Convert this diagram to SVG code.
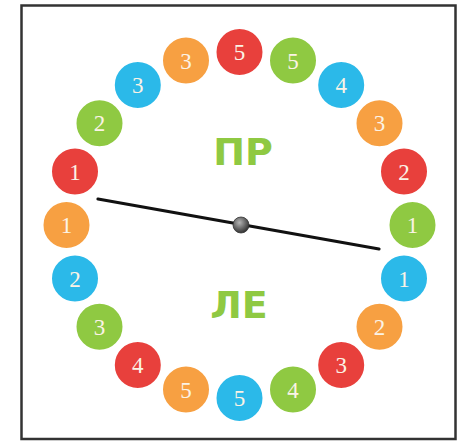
<svg xmlns="http://www.w3.org/2000/svg" width="458" height="441" viewBox="0 0 458 441">
<defs>
<radialGradient id="hub" cx="0.4" cy="0.35" r="0.7">
<stop offset="0" stop-color="#b5b5b5"/>
<stop offset="0.6" stop-color="#606060"/>
<stop offset="1" stop-color="#2a2a2a"/>
</radialGradient>
<style>
.c{stroke:#fff;stroke-width:2}
.r{fill:#e8403c}
.o{fill:#f7a042}
.g{fill:#8fc942}
.b{fill:#2bb9e9}
.n{font-family:"Liberation Serif",serif;font-size:23px;fill:#fbf3e6;text-anchor:middle}
.big{font-family:"DejaVu Sans",sans-serif;font-weight:bold;font-size:38px;fill:#8fc942;text-anchor:middle}
</style>
</defs>
<rect x="0" y="0" width="458" height="441" fill="#fff"/>
<rect x="21.5" y="5.5" width="434" height="433.5" fill="#fff" stroke="#333" stroke-width="2.5"/>
<g id="s0"><circle class="c r" cx="239.5" cy="52" r="24"/><text class="n" x="239.5" y="60">5</text></g>
<g id="s1"><circle class="c g" cx="293" cy="60.5" r="24"/><text class="n" x="293" y="68.5">5</text></g>
<g id="s2"><circle class="c b" cx="341.2" cy="85" r="24"/><text class="n" x="341.2" y="93">4</text></g>
<g id="s3"><circle class="c o" cx="379.5" cy="123.3" r="24"/><text class="n" x="379.5" y="131.3">3</text></g>
<g id="s4"><circle class="c r" cx="404" cy="171.5" r="24"/><text class="n" x="404" y="179.5">2</text></g>
<g id="s5"><circle class="c g" cx="412.5" cy="225" r="24"/><text class="n" x="412.5" y="233">1</text></g>
<g id="s6"><circle class="c b" cx="404" cy="278.5" r="24"/><text class="n" x="404" y="286.5">1</text></g>
<g id="s7"><circle class="c o" cx="379.5" cy="326.7" r="24"/><text class="n" x="379.5" y="334.7">2</text></g>
<g id="s8"><circle class="c r" cx="341.2" cy="365" r="24"/><text class="n" x="341.2" y="373">3</text></g>
<g id="s9"><circle class="c g" cx="293" cy="389.5" r="24"/><text class="n" x="293" y="397.5">4</text></g>
<g id="s10"><circle class="c b" cx="239.5" cy="398" r="24"/><text class="n" x="239.5" y="406">5</text></g>
<g id="s11"><circle class="c o" cx="186" cy="389.5" r="24"/><text class="n" x="186" y="397.5">5</text></g>
<g id="s12"><circle class="c r" cx="137.8" cy="365" r="24"/><text class="n" x="137.8" y="373">4</text></g>
<g id="s13"><circle class="c g" cx="99.5" cy="326.7" r="24"/><text class="n" x="99.5" y="334.7">3</text></g>
<g id="s14"><circle class="c b" cx="75" cy="278.5" r="24"/><text class="n" x="75" y="286.5">2</text></g>
<g id="s15"><circle class="c o" cx="66.5" cy="225" r="24"/><text class="n" x="66.5" y="233">1</text></g>
<g id="s16"><circle class="c r" cx="75" cy="171.5" r="24"/><text class="n" x="75" y="179.5">1</text></g>
<g id="s17"><circle class="c g" cx="99.5" cy="123.3" r="24"/><text class="n" x="99.5" y="131.3">2</text></g>
<g id="s18"><circle class="c b" cx="137.8" cy="85" r="24"/><text class="n" x="137.8" y="93">3</text></g>
<g id="s19"><circle class="c o" cx="186" cy="60.5" r="24"/><text class="n" x="186" y="68.5">3</text></g>
<g id="labels">
<text class="big" x="243" y="165">ПР</text>
<text class="big" x="239" y="318">ЛЕ</text>
</g>
<g id="needle">
<line x1="98" y1="199" x2="379" y2="249" stroke="#111" stroke-width="3.2" stroke-linecap="round"/>
<circle cx="241" cy="225" r="8" fill="url(#hub)" stroke="#333" stroke-width="0.8"/>
</g>
</svg>
